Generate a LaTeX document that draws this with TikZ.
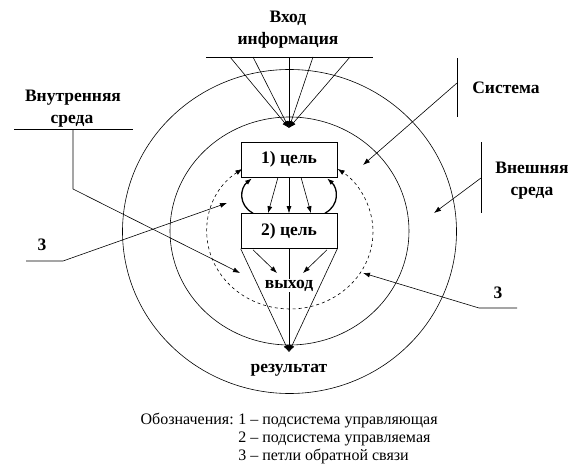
\documentclass[tikz,border=0pt]{standalone}
\usepackage{fontspec}
\setmainfont{Liberation Serif}
\usetikzlibrary{arrows.meta,calc}
\begin{document}
\begin{tikzpicture}[x=1pt,y=-1pt,line width=0.6pt,
  lbl/.style={font=\fontsize{17.5}{19}\bfseries\selectfont,inner sep=0pt,anchor=base},
  box/.style={draw,fill=white,minimum width=96pt,minimum height=35pt,inner sep=0pt,
    font=\fontsize{17.5}{19}\bfseries\selectfont},
  arr/.style={-{Latex[length=7pt,width=5pt]}},
  fb/.style={line width=1.3pt,-{Latex[length=7pt,width=5pt]}},
  leg/.style={font=\fontsize{16}{18}\selectfont,inner sep=0pt,anchor=base west}]
\useasboundingbox (0,0) rectangle (582,471);
% circles
\draw (289.5,231.5) ellipse [x radius=167pt,y radius=162pt];
\draw (289.5,231) ellipse [x radius=119.5pt,y radius=114pt];
% input
\node[lbl] (vhod) at (288,23) {Вход};
\node[lbl] (info) at (288,44) {информация};
\coordinate (inL) at (206,57);
\coordinate (inR) at (373,57);
\draw (inL) -- (inR);
\coordinate (inpt) at (289,128);
\foreach \x [count=\i] in {230,253,289,313,350}{
  \coordinate (i\i) at (\x,57);
  \draw[arr] (i\i) -- (inpt);
}
% dashed feedback loop
\draw[dashed,{Latex[length=7pt,width=5pt]}-{Latex[length=7pt,width=5pt]}]
  (242.4,168.9) arc[start angle=125,end angle=415,x radius=83pt,y radius=77pt];
% boxes
\node[box] (b1) at (289,159.5) {1) цель};
\node[box] (b2) at (289,231) {2) цель};
\draw[arr] ($(b1.south)+(-11,0)$) -- ($(b2.north)+(-21,0)$);
\draw[arr] (b1.south) -- (b2.north);
\draw[arr] ($(b1.south)+(12,0)$) -- ($(b2.north)+(22,0)$);
\draw[fb] ($(b2.north)+(-36,0)$) .. controls (238,205) and (240,188) .. ($(b1.south)+(-37,1)$);
\draw[fb] ($(b2.north)+(36,0)$) .. controls (340,205) and (338,188) .. ($(b1.south)+(38,1)$);
% output
\coordinate (res) at (289,352);
\draw[arr] (b2.south west) -- (res);
\draw[arr] (b2.south) -- (res);
\draw[arr] (b2.south east) -- (res);
\node[lbl,fill=white,inner sep=1pt] (vyh) at (289,288) {выход};
\coordinate (o1) at (277,273);
\coordinate (o2) at (303,273);
\draw[arr] ($(b2.south)+(-36,1)$) -- (o1);
\draw[arr] ($(b2.south)+(38,1)$) -- (o2);
\node[lbl] (rez) at (289,372) {результат};
% Внутренняя среда
\node[lbl] (vn1) at (73,101.5) {Внутренняя};
\node[lbl] (vn2) at (72,123) {среда};
\coordinate (vnL) at (14,129);
\coordinate (vnR) at (133,129);
\coordinate (vnK) at (73,129);
\coordinate (vnB) at (73,189);
\coordinate (vnT) at (240,273);
\draw (vnL) -- (vnR);
\draw[arr] (vnK) -- (vnB) -- (vnT);
% left 3
\node[lbl] (t3l) at (42,250) {3};
\coordinate (l3a) at (26,261);
\coordinate (l3b) at (63,261);
\coordinate (l3t) at (227,203);
\draw[arr] (l3a) -- (l3b) -- (l3t);
% Система
\node[lbl] (sys) at (506,93) {Система};
\coordinate (syT) at (457,58);
\coordinate (syB) at (457,117);
\coordinate (syK) at (457,83);
\coordinate (syE) at (363,165);
\draw (syT) -- (syB);
\draw[arr] (syK) -- (syE);
% Внешняя среда
\node[lbl] (ex1) at (532,173) {Внешняя};
\node[lbl] (ex2) at (532,195) {среда};
\coordinate (exT) at (481,142);
\coordinate (exB) at (481,213);
\coordinate (exK) at (481,178);
\coordinate (exE) at (434,213);
\draw (exT) -- (exB);
\draw[arr] (exK) -- (exE);
% right 3
\node[lbl] (t3r) at (498,298) {3};
\coordinate (r3a) at (517,308);
\coordinate (r3b) at (479,308);
\coordinate (r3t) at (363,273);
\draw[arr] (r3a) -- (r3b) -- (r3t);
% legend
\node[leg,anchor=base east] (lg0) at (234,424) {Обозначения:};
\node[leg] (lg1) at (238,424) {1 – подсистема управляющая};
\node[leg] (lg2) at (238,442) {2 – подсистема управляемая};
\node[leg] (lg3) at (238,460) {3 – петли обратной связи};
\end{tikzpicture}
\end{document}
